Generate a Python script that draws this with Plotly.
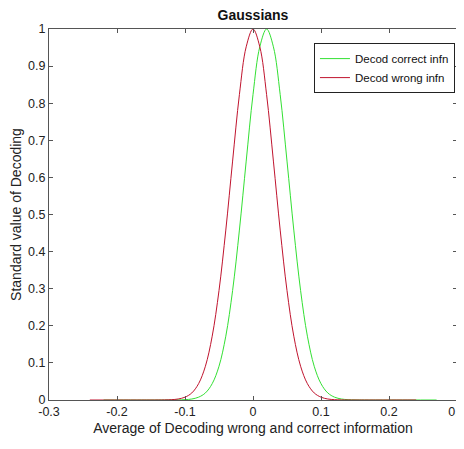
import plotly.graph_objects as go

# Values
x_wrong = [-0.24, -0.18, -0.15, -0.13, -0.12, -0.11, -0.10, -0.09, -0.08, -0.07, -0.06, -0.05, -0.04, -0.03, -0.02, -0.01, 0.0,
           0.01, 0.02, 0.03, 0.04, 0.05, 0.06, 0.07, 0.08, 0.09, 0.10, 0.11, 0.12, 0.13, 0.15, 0.18, 0.24]
y_wrong = [0.0, 0.0, 0.0, 0.0003, 0.0009, 0.0027, 0.0076, 0.019, 0.044, 0.091, 0.172, 0.295, 0.458, 0.644, 0.823, 0.952, 1.0,
           0.952, 0.823, 0.644, 0.458, 0.295, 0.172, 0.091, 0.044, 0.019, 0.0076, 0.0027, 0.0009, 0.0003, 0.0, 0.0, 0.0]

x_correct = [-0.22, -0.16, -0.13, -0.11, -0.10, -0.09, -0.08, -0.07, -0.06, -0.05, -0.04, -0.03, -0.02, -0.01, 0.0, 0.01, 0.02,
             0.03, 0.04, 0.05, 0.06, 0.07, 0.08, 0.09, 0.10, 0.11, 0.12, 0.13, 0.14, 0.15, 0.17, 0.20, 0.27]
y_correct = [0.0, 0.0, 0.0, 0.0003, 0.0009, 0.0027, 0.0076, 0.019, 0.044, 0.091, 0.172, 0.295, 0.458, 0.644, 0.823, 0.952, 1.0,
             0.952, 0.823, 0.644, 0.458, 0.295, 0.172, 0.091, 0.044, 0.019, 0.0076, 0.0027, 0.0009, 0.0003, 0.0, 0.0, 0.0]

x_ticks = [-0.3, -0.2, -0.1, 0, 0.1, 0.2, 0.3]
x_tick_labels = ["-0.3", "-0.2", "-0.1", "0", "0.1", "0.2", "0.3"]
y_ticks = [0, 0.1, 0.2, 0.3, 0.4, 0.5, 0.6, 0.7, 0.8, 0.9, 1]
y_tick_labels = ["0", "0.1", "0.2", "0.3", "0.4", "0.5", "0.6", "0.7", "0.8", "0.9", "1"]

FONT = "Liberation Sans, Arial, sans-serif"

fig = go.Figure()
fig.add_trace(go.Scatter(x=x_correct, y=y_correct, mode="lines", name="Decod correct infn",
                         line=dict(color="#33e033", width=1, shape="spline", smoothing=1.0)))
fig.add_trace(go.Scatter(x=x_wrong, y=y_wrong, mode="lines", name="Decod wrong infn",
                         line=dict(color="#c0142e", width=1, shape="spline", smoothing=1.0)))

axis_common = dict(showgrid=False, zeroline=False, showline=True, linecolor="#555555", linewidth=1,
                   mirror="ticks", ticks="inside", ticklen=4, tickcolor="#555555", automargin=False,
                   ticklabeloverflow="allow",
                   tickfont=dict(family=FONT, size=12.5, color="#222222"))

# the page body adds an 8px offset; the figure size and margins account for it
fig.update_layout(
    width=456, height=441,
    margin=dict(l=41, r=7, t=21, b=49),
    paper_bgcolor="white", plot_bgcolor="white",
    title=dict(text="<b>Gaussians</b>", x=(41 + 449) / 2 / 456, xanchor="center", y=0.984, yanchor="middle",
               font=dict(family=FONT, size=14, color="#111111")),
    xaxis=dict(range=[-0.3, 0.3], tickvals=x_ticks, ticktext=x_tick_labels,
               title=dict(text="Average of Decoding wrong and correct information", standoff=5,
                          font=dict(family=FONT, size=14, color="#222222")), **axis_common),
    yaxis=dict(range=[0, 1], tickvals=y_ticks, ticktext=y_tick_labels,
               title=dict(text="Standard value of Decoding", standoff=4,
                          font=dict(family=FONT, size=14, color="#222222")), **axis_common),
    showlegend=True,
    legend=dict(x=0.995, y=0.962, xanchor="right", yanchor="top", bgcolor="white",
                bordercolor="#222222", borderwidth=1, font=dict(family=FONT, size=11.5, color="#111111"),
                tracegroupgap=0, itemwidth=30),
)

fig.write_html("out.html")
